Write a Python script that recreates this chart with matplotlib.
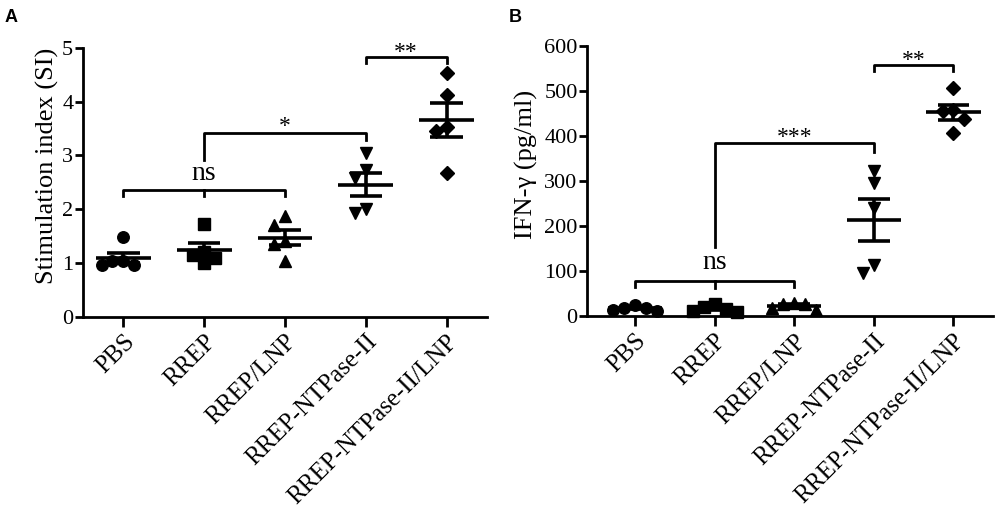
import numpy as np
import matplotlib
matplotlib.use("Agg")
import matplotlib.pyplot as plt

plt.rcParams['font.family'] = ['Liberation Serif', 'DejaVu Serif']

groups = ["PBS", "RREP", "RREP/LNP", "RREP-NTPase-II", "RREP-NTPase-II/LNP"]
markers = ['o', 's', '^', 'v', 'D']

si_values = [
    [1.48, 1.03, 0.96, 0.97, 1.04],
    [1.73, 1.15, 1.00, 1.20, 1.10],
    [1.87, 1.70, 1.40, 1.35, 1.03],
    [3.05, 2.72, 2.58, 2.00, 1.92],
    [4.54, 4.13, 3.53, 3.45, 2.67],
]
ifn_values = [
    [18, 24, 14, 19, 12],
    [27, 16, 10, 20, 12],
    [28, 30, 27, 17, 14],
    [323, 295, 240, 113, 95],
    [506, 458, 455, 437, 407],
]

si_ticks = [0, 1, 2, 3, 4, 5]
ifn_ticks = [0, 100, 200, 300, 400, 500, 600]

fig = plt.figure(figsize=(10, 5.14), dpi=100)
axA = fig.add_axes([0.083, 0.384, 0.404, 0.5226])
axB = fig.add_axes([0.5873, 0.385, 0.406, 0.5255])


def swarm_offsets(ax, x0, vals, size_px):
    trans = ax.transData
    inv = trans.inverted()
    xc = trans.transform((x0, 0))[0]
    placed = []
    order = np.argsort(vals)[::-1]
    res = [0.0] * len(vals)
    for i in order:
        yp = trans.transform((x0, vals[i]))[1]
        for k in [0, -1, 1, -2, 2, -3, 3, -4, 4]:
            xp = xc + k * size_px * 0.95
            ok = all((xp - px) ** 2 + (yp - py) ** 2 >= (size_px * 0.9) ** 2 for px, py in placed)
            if ok:
                break
        placed.append((xp, yp))
        res[i] = inv.transform((xp, yp))[0]
    return res


def panel(ax, data, ticks, ylim, xlim, ylabel, label_x):
    ax.set_xlim(*xlim)
    ax.set_ylim(*ylim)
    for i, vals in enumerate(data):
        vals = np.array(vals, dtype=float)
        ms = 7.4 if markers[i] == 'D' else 8.3
        xs = swarm_offsets(ax, i, vals, 11.5)
        ax.plot(xs, vals, linestyle='none', marker=markers[i], ms=ms,
                color='black', zorder=3, clip_on=False)
        m = vals.mean()
        sem = vals.std(ddof=1) / np.sqrt(len(vals))
        ax.hlines(m, i - 0.34, i + 0.34, color='black', lw=2.6, zorder=4)
        ax.hlines([m - sem, m + sem], i - 0.2, i + 0.2, color='black', lw=2.6, zorder=4)
        ax.vlines(i, m - sem, m + sem, color='black', lw=2.6, zorder=4)
    ax.set_xticks(range(len(groups)))
    ax.set_xticklabels(groups, rotation=45, ha='right', rotation_mode='anchor', fontsize=18)
    ax.set_yticks(ticks)
    ax.tick_params(axis='y', labelsize=16, width=2, length=6, direction='out', pad=1)
    ax.tick_params(axis='x', width=2, length=7, direction='out', pad=3)
    for s in ['top', 'right']:
        ax.spines[s].set_visible(False)
    for s in ['left', 'bottom']:
        ax.spines[s].set_linewidth(2)
    ax.set_ylabel(ylabel, fontsize=19, va='center')
    ax.yaxis.set_label_coords(label_x, 0.56)


panel(axA, si_values, si_ticks, (0, 5), (-0.5, 4.5), "Stimulation index (SI)", -0.089)
panel(axB, ifn_values, ifn_ticks, (0, 600), (-0.6, 4.5), "IFN-γ (pg/ml)", -0.149)

blw = 2.0
# Panel A brackets
axA.plot([0, 0, 2, 2], [2.24, 2.36, 2.36, 2.24], color='black', lw=blw)
axA.plot([1, 1], [2.36, 2.25], color='black', lw=blw)
axA.text(1, 2.54, "ns", ha='center', va='baseline', fontsize=20)
axA.plot([1, 1, 3, 3], [2.92, 3.42, 3.42, 3.29], color='black', lw=blw)
axA.text(2, 3.44, "*", ha='center', va='baseline', fontsize=17)
axA.plot([3, 3, 4, 4], [4.72, 4.83, 4.83, 4.72], color='black', lw=blw, clip_on=False)
axA.text(3.5, 4.82, "**", ha='center', va='baseline', fontsize=17)

# Panel B brackets
axB.plot([0, 0, 2, 2], [65, 78, 78, 65], color='black', lw=blw)
axB.plot([1, 1], [78, 62], color='black', lw=blw)
axB.text(1, 104, "ns", ha='center', va='baseline', fontsize=20)
axB.plot([1, 1, 3, 3], [154, 384, 384, 365], color='black', lw=blw)
axB.text(2, 384, "***", ha='center', va='baseline', fontsize=17)
axB.plot([3, 3, 4, 4], [545, 558, 558, 545], color='black', lw=blw)
axB.text(3.5, 556, "**", ha='center', va='baseline', fontsize=17)

fig.text(0.005, 0.965, "A", fontsize=13, fontweight='bold', family='Liberation Sans', va='center')
fig.text(0.509, 0.965, "B", fontsize=13, fontweight='bold', family='Liberation Sans', va='center')

fig.savefig("out.png", dpi=100)
